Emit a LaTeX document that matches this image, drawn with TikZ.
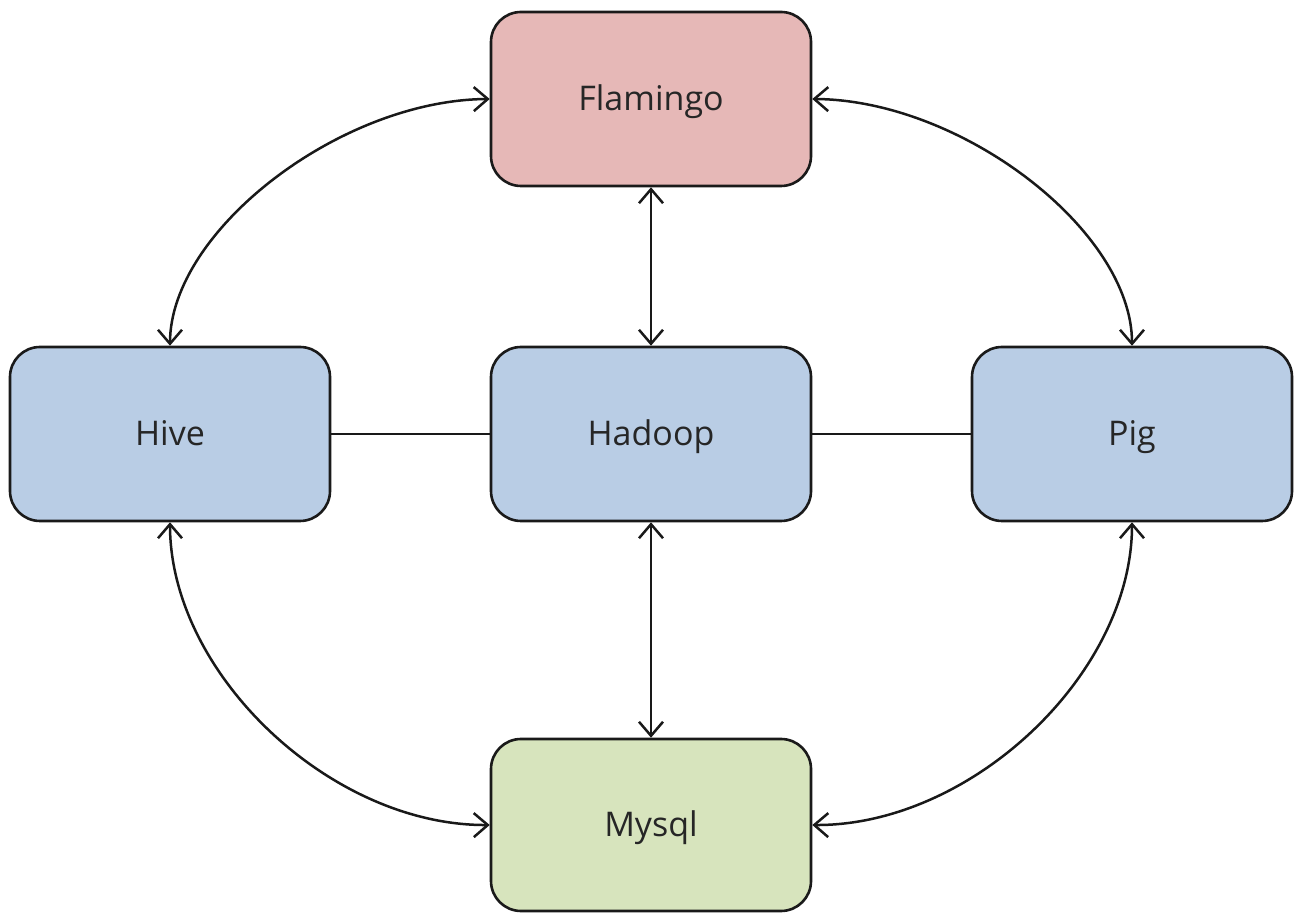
\documentclass[tikz,border=0pt]{standalone}
\usepackage{fontspec}
\setmainfont{Open Sans}
\usetikzlibrary{arrows.meta}
\definecolor{flam}{HTML}{E6B8B7}
\definecolor{blu}{HTML}{B9CDE5}
\definecolor{grn}{HTML}{D7E4BD}
\definecolor{edge}{HTML}{1A1A1A}
\begin{document}
\begin{tikzpicture}[x=1pt,y=1pt,
  box/.style={draw=edge,line width=2.6pt,rounded corners=30pt,minimum width=320pt,minimum height=174pt,inner sep=0pt,text=black!85,font=\fontsize{34}{40}\selectfont,text height=24pt,text depth=0pt},
  conn/.style={draw=black!90,line width=2.5pt},
  barb/.tip={Straight Barb[length=14pt,width=24pt,line width=2.5pt]},
  biarrow/.style={conn,barb-barb}]
\useasboundingbox (0,0) rectangle (1297,912);
\node[box,fill=flam] (fl) at (651,813) {Flamingo};
\node[box,fill=blu] (hv) at (170,478) {Hive};
\node[box,fill=blu] (hd) at (651,478) {Hadoop};
\node[box,fill=blu] (pg) at (1132,478) {Pig};
\node[box,fill=grn,minimum height=172pt] (my) at (651,87) {Mysql};
\draw[biarrow] (fl.south) -- (hd.north);
\draw[biarrow] (hd.south) -- (my.north);
\draw[conn] (hv.east) -- (hd.west);
\draw[conn] (hd.east) -- (pg.west);
\draw[biarrow] (hv.north) .. controls (170,681) and (340,812) .. (fl.west);
\draw[biarrow] (pg.north) .. controls (1132,681) and (962,812) .. (fl.east);
\draw[biarrow] (hv.south) .. controls (170,238) and (331,86) .. (my.west);
\draw[biarrow] (pg.south) .. controls (1132,238) and (971,86) .. (my.east);
\end{tikzpicture}
\end{document}
